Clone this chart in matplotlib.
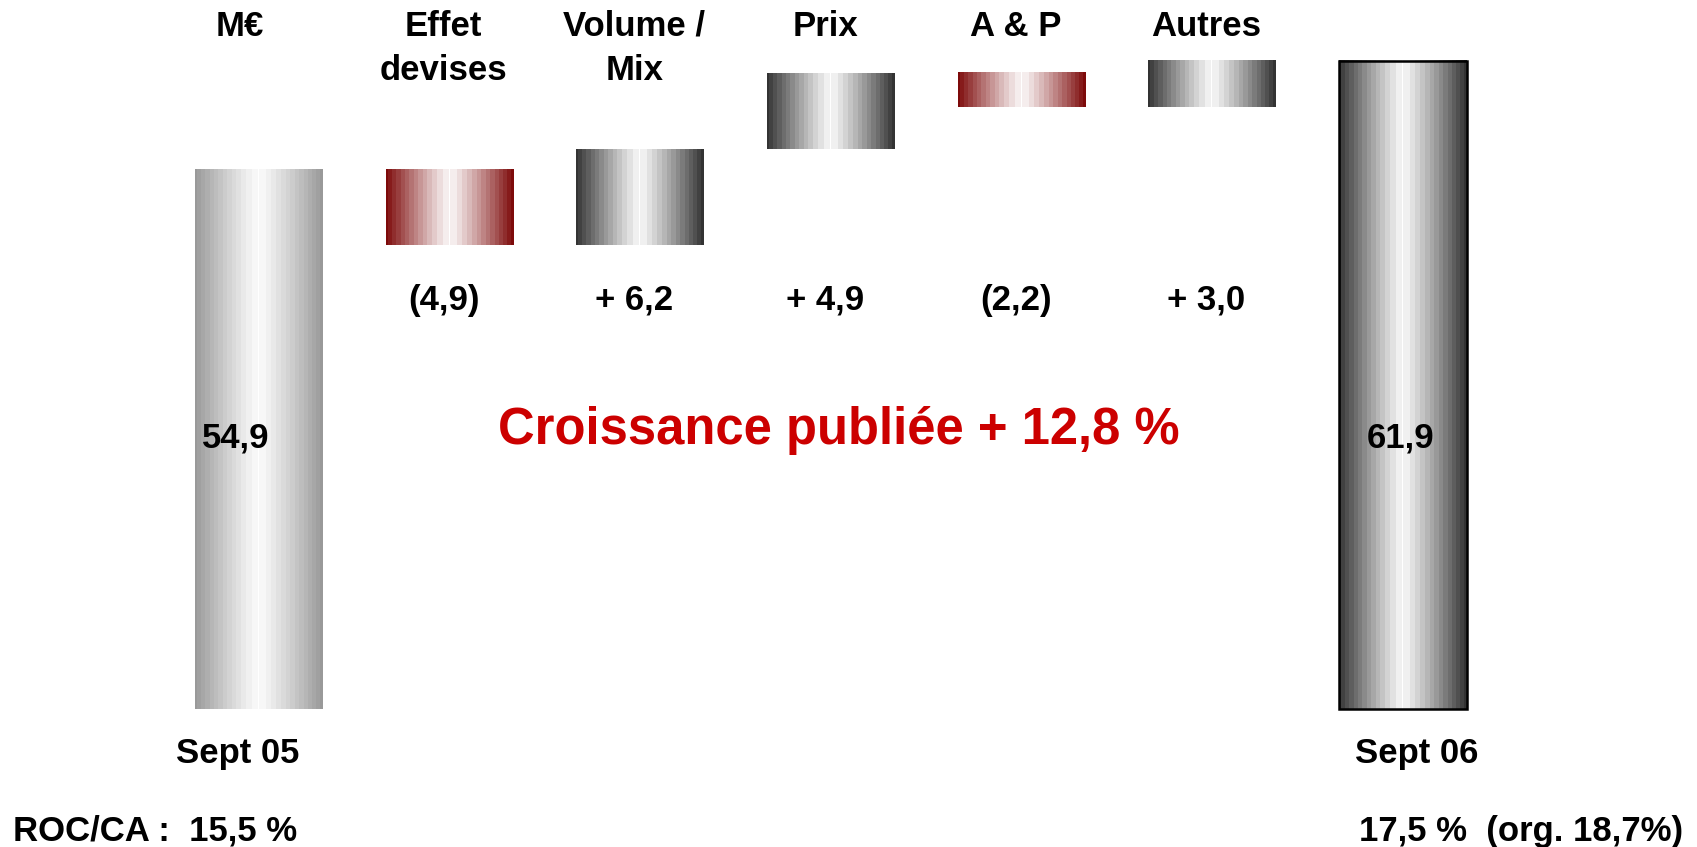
import numpy as np
import matplotlib
matplotlib.use("Agg")
import matplotlib.pyplot as plt
from matplotlib.colors import to_rgb

# ---- data ----
start_label = "Sept 05"
end_label = "Sept 06"
start_value = 54.9
end_value = 61.9
step_names = ["Effet\ndevises", "Volume /\nMix", "Prix", "A & P", "Autres"]
step_deltas = [-4.9, 6.2, 4.9, -2.2, 3.0]
step_labels = ["(4,9)", "+ 6,2", "+ 4,9", "(2,2)", "+ 3,0"]
start_text = "54,9"
end_text = "61,9"
unit_label = "M€"
headline = "Croissance publiée + 12,8 %"
roc_left = "ROC/CA :  15,5 %"
roc_right = "17,5 %  (org. 18,7%)"
baseline = 20.0

plt.rcParams['font.family'] = ['Liberation Sans', 'DejaVu Sans']
plt.rcParams['font.weight'] = 'bold'

fig = plt.figure(figsize=(16.97, 8.47), dpi=100)
ax = fig.add_axes([0, 0, 1, 1])
ax.set_axis_off()

W = 0.67

def grad_bar(x, bottom, top, edge, outline=False):
    n = 256
    t = np.linspace(0, 1, n)
    d = np.abs(t - 0.5) * 2
    prof = np.clip(0.03 + 0.97 * d ** 1.15, 0, 1)
    prof = np.round(prof * 14) / 14
    e = np.array(to_rgb(edge))
    img = (1 - prof)[:, None] * np.ones(3)[None, :] + prof[:, None] * e[None, :]
    img = img[None, :, :]
    ax.imshow(img, extent=[x - W / 2, x + W / 2, bottom, top],
              aspect='auto', interpolation='nearest', zorder=2)
    if outline:
        ax.add_patch(plt.Rectangle((x - W / 2, bottom), W, top - bottom,
                                   fill=False, ec='black', lw=1.8, zorder=3))

n_steps = len(step_deltas)
xs_steps = np.arange(1, n_steps + 1)

grad_bar(0, baseline, start_value, '#999999')

running = start_value
for i, d in enumerate(step_deltas):
    lo, hi = min(running, running + d), max(running, running + d)
    col = '#7d0a0a' if d < 0 else '#333333'
    grad_bar(xs_steps[i], lo, hi, col)
    running += d

grad_bar(n_steps + 1, baseline, end_value, '#333333', outline=True)

ax.set_xlim(-1.357, 7.542)
ax.set_ylim(11.08, 65.83)

fs = 25
tr = ax.get_xaxis_transform()
H = 847.0

ax.text(-0.1, 1 - 26 / H, unit_label, transform=tr,
        ha='center', va='center', fontsize=fs, fontweight='bold')
for i, name in enumerate(step_names):
    for j, line in enumerate(name.split("\n")):
        ax.text(xs_steps[i] - 0.03, 1 - (26 + 44.5 * j) / H, line, transform=tr,
                ha='center', va='center', fontsize=fs, fontweight='bold')
    ax.text(xs_steps[i] - 0.03, 1 - 300 / H, step_labels[i], transform=tr,
            ha='center', va='center', fontsize=fs, fontweight='bold')

ax.text(-0.12, 1 - 438 / H, start_text, transform=tr,
        ha='center', va='center', fontsize=fs, fontweight='bold')
ax.text(n_steps + 1 - 0.01, 1 - 438 / H, end_text, transform=tr,
        ha='center', va='center', fontsize=fs, fontweight='bold')

ax.text(-0.11, 1 - 753 / H, start_label, transform=tr,
        ha='center', va='center', fontsize=fs, fontweight='bold')
ax.text(n_steps + 1.07, 1 - 753 / H, end_label, transform=tr,
        ha='center', va='center', fontsize=fs, fontweight='bold')

fig.text(839 / 1697, 1 - 430 / H, headline, color='#cc0000',
         ha='center', va='center', fontsize=36.5, fontweight='bold')

fig.text(13 / 1697, 1 - 831 / H, roc_left, ha='left', va='center',
         fontsize=fs, fontweight='bold')
fig.text(1683 / 1697, 1 - 831 / H, roc_right, ha='right', va='center',
         fontsize=fs, fontweight='bold')

fig.savefig("out.png", dpi=100)
